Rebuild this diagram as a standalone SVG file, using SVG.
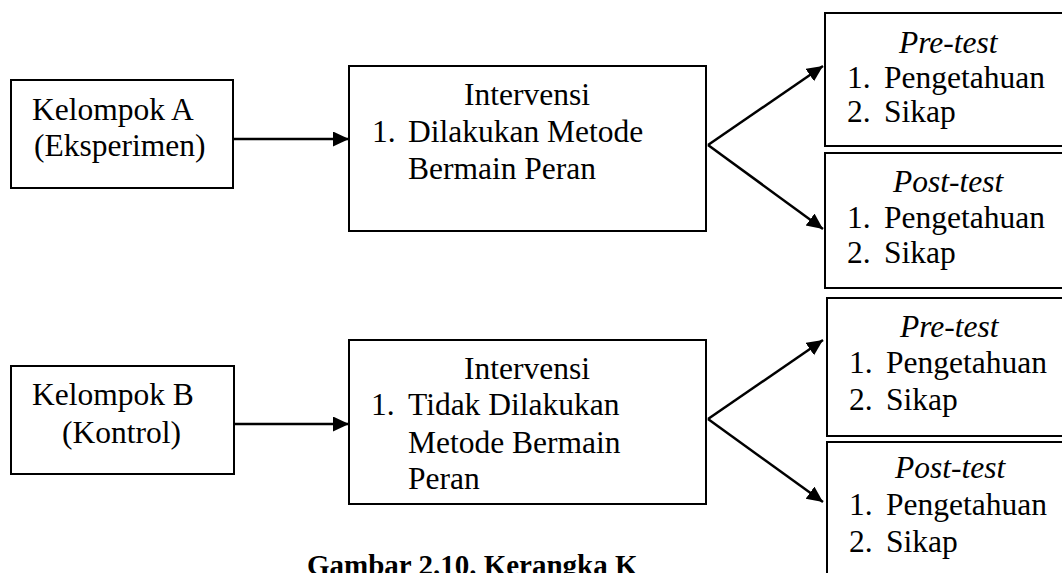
<svg xmlns="http://www.w3.org/2000/svg" width="1062" height="573" viewBox="0 0 1062 573">
<style>
.box{fill:#fff;stroke:#000;stroke-width:2}
.t{font-family:'Liberation Serif','Times New Roman',Times,serif;font-size:31.5px;fill:#000}
.i{font-style:italic}
.c{font-family:'Liberation Serif','Times New Roman',Times,serif;font-size:29px;font-weight:bold;fill:#000}
.ln{stroke:#000;stroke-width:2.5;fill:none;marker-end:url(#ah)}
</style>
<defs>
<marker id="ah" markerUnits="userSpaceOnUse" markerWidth="17" markerHeight="16" refX="16" refY="7.5" orient="auto">
<path d="M0,0 L16,7.5 L0,15 z" fill="#000"/>
</marker>
</defs>
<rect width="1062" height="573" fill="#fff"/>
<g id="connectors">
<path class="ln" d="M233,139 H349"/>
<path class="ln" d="M708,145 L823,66"/>
<path class="ln" d="M708,145 L823,229"/>
<path class="ln" d="M234,424 H349"/>
<path class="ln" d="M708,419 L823,340"/>
<path class="ln" d="M708,419 L823,502"/>
</g>
<g id="kelompokA">
<rect class="box" x="11" y="80" width="222" height="108"/>
<text class="t" x="32" y="120">Kelompok A</text>
<text class="t" x="34" y="156">(Eksperimen)</text>
</g>
<g id="intervensiA">
<rect class="box" x="349" y="66" width="357" height="165"/>
<text class="t" x="527" y="105" text-anchor="middle">Intervensi</text>
<text class="t" x="372" y="142">1.</text>
<text class="t" x="408" y="142">Dilakukan Metode</text>
<text class="t" x="408" y="179">Bermain Peran</text>
</g>
<g id="pretestA">
<rect class="box" x="825" y="13" width="250" height="133"/>
<text class="t i" x="899" y="53">Pre-test</text>
<text class="t" x="847" y="88">1.</text>
<text class="t" x="884" y="88">Pengetahuan</text>
<text class="t" x="847" y="122">2.</text>
<text class="t" x="884" y="122">Sikap</text>
</g>
<g id="posttestA">
<rect class="box" x="825" y="153" width="250" height="135"/>
<text class="t i" x="893" y="192">Post-test</text>
<text class="t" x="847" y="228">1.</text>
<text class="t" x="884" y="228">Pengetahuan</text>
<text class="t" x="847" y="263">2.</text>
<text class="t" x="884" y="263">Sikap</text>
</g>
<g id="kelompokB">
<rect class="box" x="11" y="366" width="223" height="108"/>
<text class="t" x="32" y="405">Kelompok B</text>
<text class="t" x="62" y="443">(Kontrol)</text>
</g>
<g id="intervensiB">
<rect class="box" x="349" y="340" width="357" height="164"/>
<text class="t" x="527" y="379" text-anchor="middle">Intervensi</text>
<text class="t" x="371" y="415">1.</text>
<text class="t" x="408" y="415">Tidak Dilakukan</text>
<text class="t" x="408" y="453">Metode Bermain</text>
<text class="t" x="408" y="489">Peran</text>
</g>
<g id="pretestB">
<rect class="box" x="827" y="298" width="250" height="138"/>
<text class="t i" x="900" y="337">Pre-test</text>
<text class="t" x="849" y="373">1.</text>
<text class="t" x="886" y="373">Pengetahuan</text>
<text class="t" x="849" y="410">2.</text>
<text class="t" x="886" y="410">Sikap</text>
</g>
<g id="posttestB">
<rect class="box" x="827" y="442" width="250" height="150"/>
<text class="t i" x="895" y="478">Post-test</text>
<text class="t" x="849" y="515">1.</text>
<text class="t" x="886" y="515">Pengetahuan</text>
<text class="t" x="849" y="552">2.</text>
<text class="t" x="886" y="552">Sikap</text>
</g>
<g id="caption">
<text class="c" x="307" y="575">Gambar 2.10. Kerangka K</text>
</g>
</svg>
